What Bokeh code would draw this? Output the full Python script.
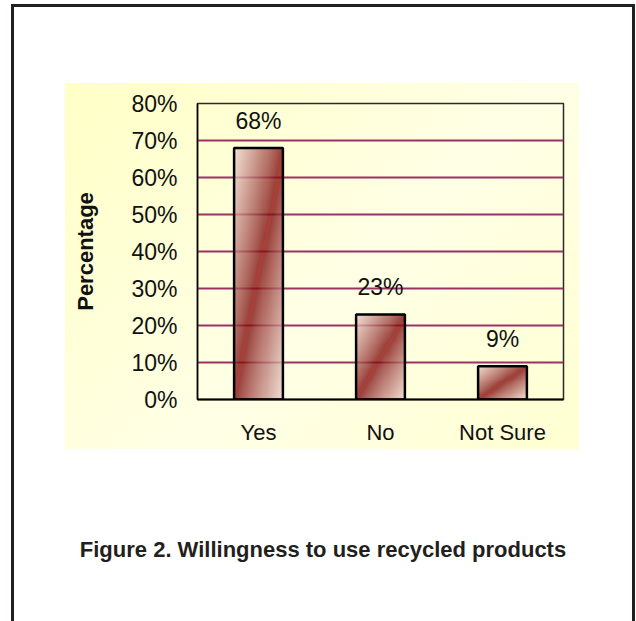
import numpy as np
from bokeh.plotting import figure
from bokeh.layouts import column
from bokeh.models import (ColumnDataSource, Range1d, FactorRange, FixedTicker,
                          PrintfTickFormatter, Div)
from bokeh.core.properties import value
from bokeh.embed import file_html
from bokeh.resources import INLINE

# Survey answers
categories = ["Yes", "No", "Not Sure"]
percentages = [68, 23, 9]
value_labels = ["68%", "23%", "9%"]
y_ticks = [0, 10, 20, 30, 40, 50, 60, 70, 80]
y_title = "Percentage"
caption = "Figure 2. Willingness to use recycled products"

FONT = "Liberation Sans"
TEXT = "#111111"
FRAME = "#231f20"
BAR_DARK = np.array([120, 2, 2], dtype=float)
BAR_LIGHT = np.array([240, 218, 210], dtype=float)
BAR_ALPHA = 200


def diagonal_gradient(height, nx=48):
    """RGBA texture: dark along the bottom-left -> top-right diagonal, light at the edges."""
    ny = max(int(height * 4), 8)
    u = (np.arange(nx) + 0.5) / nx
    v = (np.arange(ny) + 0.5) / ny
    uu, vv = np.meshgrid(u, v)
    d = np.abs(uu - vv)
    t = np.clip(d, 0, 1) ** 0.85
    rgb = BAR_DARK + (BAR_LIGHT - BAR_DARK) * t[..., None]
    glow = np.exp(-(d / 0.02) ** 2)[..., None] * np.array([40.0, 6.0, 6.0])
    rgb = np.clip(rgb + glow, 0, 255)
    img = np.empty((ny, nx), dtype=np.uint32)
    view = img.view(dtype=np.uint8).reshape((ny, nx, 4))
    view[..., :3] = rgb.astype(np.uint8)
    view[..., 3] = BAR_ALPHA
    return img


# the chart panel (pale yellow card holding plot and axes)
p = figure(
    x_range=FactorRange(*categories),
    y_range=Range1d(0, 80),
    width=514, height=366,
    output_backend="svg",
    toolbar_location=None,
    min_border_left=132, min_border_right=16,
    min_border_top=20, min_border_bottom=50,
    border_fill_alpha=0,
    background_fill_alpha=0,
    outline_line_color="#2a2a2a",
    outline_line_width=1.5,
    margin=(76, 53, 0, 51),
    styles={"background": "linear-gradient(135deg, #FFFFC6 0%, #FFFFE6 55%, #FFFFD2 100%)"},
)

# gradient-filled bars
bar_src = ColumnDataSource(dict(
    cat=categories,
    pct=percentages,
    img=[diagonal_gradient(v) for v in percentages],
    label=value_labels,
))
p.image_rgba(image="img", x="cat", y=0, dw=0.4, dh="pct",
             anchor="bottom_center", source=bar_src)
p.vbar(x="cat", top="pct", width=0.4, source=bar_src,
       fill_alpha=0, line_color="black", line_width=2.5)

# value labels above bars
p.text(x="cat", y="pct", text="label", source=bar_src,
       text_align="center", text_baseline="alphabetic", y_offset=-27,
       text_font=value(FONT), text_font_size="23px", text_color=TEXT)

# axes
p.xaxis.major_label_text_font = FONT
p.xaxis.major_label_text_font_size = "22px"
p.xaxis.major_label_text_color = TEXT
p.xaxis.axis_line_color = "black"
p.xaxis.axis_line_width = 2
p.xaxis.major_tick_in = 0
p.xaxis.major_tick_out = 0
p.xaxis.minor_tick_line_color = None
p.xaxis.major_label_standoff = 20

p.yaxis.ticker = FixedTicker(ticks=y_ticks)
p.yaxis.formatter = PrintfTickFormatter(format="%d%%")
p.yaxis.major_label_text_font = FONT
p.yaxis.major_label_text_font_size = "23px"
p.yaxis.major_label_text_color = TEXT
p.yaxis.axis_line_color = "black"
p.yaxis.axis_line_width = 1.5
p.yaxis.major_tick_in = 0
p.yaxis.major_tick_out = 0
p.yaxis.minor_tick_line_color = None
p.yaxis.major_label_standoff = 20
p.yaxis.axis_label = y_title
p.yaxis.axis_label_text_font = FONT
p.yaxis.axis_label_text_font_style = "bold"
p.yaxis.axis_label_text_font_size = "22px"
p.yaxis.axis_label_text_color = TEXT
p.yaxis.axis_label_standoff = 30

p.xgrid.visible = False
p.ygrid.grid_line_color = "#993366"
p.ygrid.grid_line_width = 2

# figure caption under the chart panel
cap = Div(
    text=caption, width=618, height=84, margin=(89, 0, 0, 0),
    styles={"text-align": "center", "font-family": FONT, "font-weight": "bold",
            "font-size": "22px", "line-height": "24px", "color": FRAME},
)

# page with a ruled frame on the left, top and right
page = column(
    p, cap, margin=(4, 0, 0, 11), spacing=0,
    styles={"border-top": f"3px solid {FRAME}", "border-left": f"3px solid {FRAME}",
            "border-right": f"3px solid {FRAME}", "background": "white"},
)

open("out.html", "w").write(file_html(page, INLINE))
